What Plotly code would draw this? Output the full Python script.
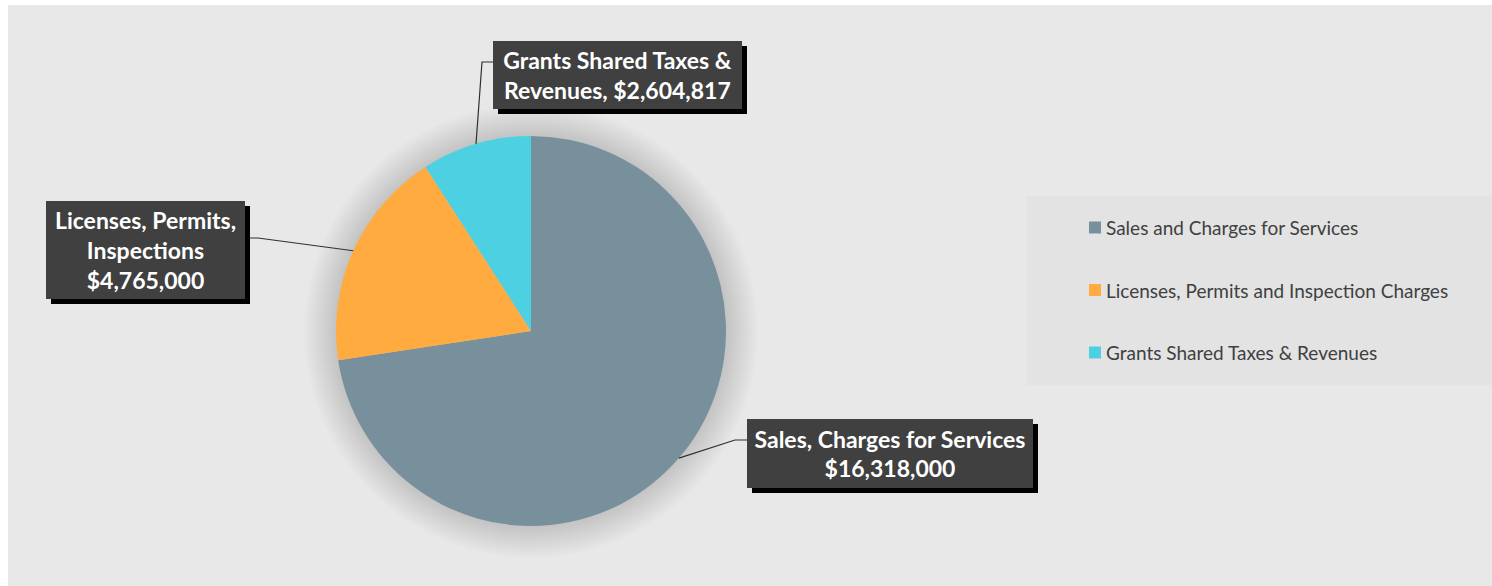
import math
import plotly.graph_objects as go

# ---------------- data ----------------
categories = ["Sales and Charges for Services",
              "Licenses, Permits and Inspection Charges",
              "Grants Shared Taxes & Revenues"]
slice_share_pct = [72.6, 18.3, 9.1]          # slice sizes as drawn in the picture
amounts = [16318000, 4765000, 2604817]        # dollar amounts printed in the labels
label_names = ["Sales, Charges for Services",
               "Licenses, Permits,<br>Inspections",
               "Grants Shared Taxes &<br>Revenues,"]
colors = ["#78909C", "#FFAB40", "#4DD0E1"]

# ---------------- geometry ----------------
W, H = 1492, 586
CX, CY, R = 531, 331, 195     # pie centre / radius in page pixels
BG = "#E8E8E8"
LEG_BG = "#E3E3E3"
BOX = "#404040"
FONT = "Lato"

def px(x):
    return x / W

def py(y):
    return 1 - y / H

fig = go.Figure()
fig.add_trace(go.Pie(
    labels=categories,
    values=slice_share_pct,
    marker=dict(colors=colors, line=dict(width=0)),
    sort=False,
    direction="clockwise",
    rotation=0,
    textinfo="none",
    hoverinfo="label+value",
    showlegend=False,
    domain=dict(x=[px(CX - R), px(CX + R)], y=[py(CY + R), py(CY - R)]),
))

shapes = []
# chart area (white strip on top and left)
shapes.append(dict(type="rect", xref="paper", yref="paper", x0=px(8), x1=1, y0=0, y1=py(5),
                   fillcolor=BG, line=dict(width=0), layer="below"))
# legend panel
shapes.append(dict(type="rect", xref="paper", yref="paper", x0=px(1027), x1=1, y0=py(385), y1=py(196),
                   fillcolor=LEG_BG, line=dict(width=0), layer="below"))
# soft glow around pie
for i in range(18, 0, -1):
    rr = R + i * 1.8
    shapes.append(dict(type="circle", xref="paper", yref="paper",
                       x0=px(CX - rr), x1=px(CX + rr), y0=py(CY + rr), y1=py(CY - rr),
                       fillcolor="rgba(0,0,0,0.009)", line=dict(width=0), layer="below"))

# leader lines from slice mid-angles
total = sum(slice_share_pct)
mids = []
acc = 0
for v in slice_share_pct:
    mid = (acc + v / 2) / total * 2 * math.pi
    mids.append((CX + R * math.sin(mid), CY - R * math.cos(mid)))
    acc += v

elbows = [[(735, 440), (747, 440)],
          [(258, 238), (245, 238)],
          [(482, 62), (493, 62)]]
for (sx, sy), pts in zip(mids, elbows):
    path = f"M {px(sx)},{py(sy)}" + "".join(f" L {px(x)},{py(y)}" for x, y in pts)
    shapes.append(dict(type="path", xref="paper", yref="paper", path=path,
                       line=dict(color="#303030", width=1.2), layer="above"))

annotations = []
boxes = [(890, 453.5, 286, 69), (145.5, 250, 199, 98), (617.5, 75, 249, 68)]
for name, amt, (bx, by, bw, bh) in zip(label_names, amounts, boxes):
    if name.endswith(","):
        txt = f"{name} ${amt:,.0f}"
    else:
        txt = f"{name}<br>${amt:,.0f}"
    # drop shadow of the label box
    shapes.append(dict(type="rect", xref="paper", yref="paper",
                       x0=px(bx - bw / 2 + 5), x1=px(bx + bw / 2 + 5),
                       y0=py(by + bh / 2 + 5), y1=py(by - bh / 2 + 5),
                       fillcolor="#000000", line=dict(width=0), layer="above"))
    annotations.append(dict(xref="paper", yref="paper", x=px(bx), y=py(by),
                            xanchor="center", yanchor="middle", showarrow=False,
                            text=f"<b>{txt}</b>", width=bw, height=bh,
                            bgcolor=BOX, borderpad=0, borderwidth=0,
                            font=dict(family=FONT, size=23, color="#FFFFFF")))

# custom legend
leg_y = [227.5, 290, 352.5]
for cat, col, yy in zip(categories, colors, leg_y):
    shapes.append(dict(type="rect", xref="paper", yref="paper",
                       x0=px(1089), x1=px(1101), y0=py(yy + 6), y1=py(yy - 6),
                       fillcolor=col, line=dict(width=0), layer="above"))
    annotations.append(dict(xref="paper", yref="paper", x=px(1104), y=py(yy),
                            xanchor="left", yanchor="middle", showarrow=False,
                            text=cat, font=dict(family=FONT, size=19, color="#404040")))

fig.update_layout(
    width=W, height=H,
    margin=dict(l=0, r=0, t=0, b=0),
    paper_bgcolor="#FFFFFF",
    shapes=shapes,
    annotations=annotations,
    showlegend=False,
)
fig.write_html(
    "out.html",
    config={"displayModeBar": False},
    post_script="document.body.style.margin='0';document.body.style.overflow='hidden';",
)
